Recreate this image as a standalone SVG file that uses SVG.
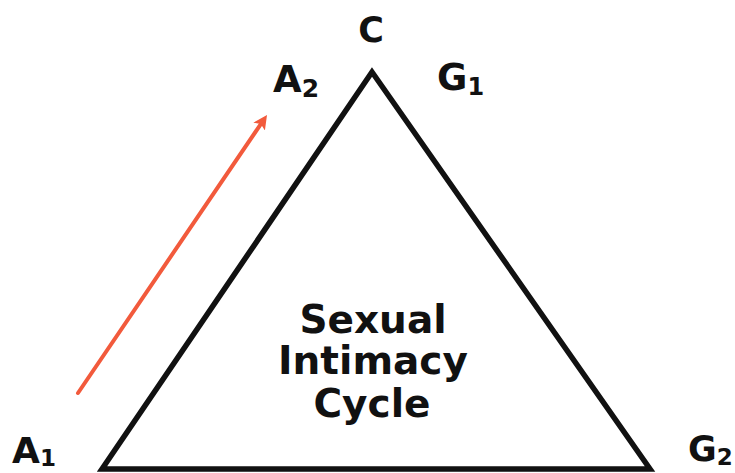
<svg xmlns="http://www.w3.org/2000/svg" width="735" height="473" viewBox="0 0 735 473">
<defs>
<style>
.lbl{font-family:"DejaVu Sans",Verdana,sans-serif;font-weight:bold;fill:#111;}
.mid{font-size:39px;}
</style>
<marker id="ah" markerWidth="16" markerHeight="16" refX="6" refY="7" orient="auto" markerUnits="userSpaceOnUse">
<path d="M0,0 L14,7 L0,14 L3,7 Z" fill="#f25a3c"/>
</marker>
</defs>
<rect width="735" height="473" fill="#fff"/>
<g id="triangle">
<polygon points="372,72 102,469 650,469" fill="none" stroke="#111" stroke-width="5.5" stroke-linejoin="miter"/>
<text class="lbl mid" text-anchor="middle" x="373" y="333">Sexual</text>
<text class="lbl mid" text-anchor="middle" x="373" y="374">Intimacy</text>
<text class="lbl mid" text-anchor="middle" x="372" y="417">Cycle</text>
</g>
<g id="C"><text class="lbl" font-size="35" text-anchor="middle" x="371" y="42">C</text></g>
<g id="A2"><text class="lbl" font-size="37" x="273" y="92">A<tspan font-size="25" dy="5">2</tspan></text></g>
<g id="G1"><text class="lbl" font-size="37" x="437" y="90">G<tspan font-size="24" dy="5">1</tspan></text></g>
<g id="A1"><text class="lbl" font-size="36" x="12" y="463">A<tspan font-size="23" dy="3">1</tspan></text></g>
<g id="G2"><text class="lbl" font-size="35" x="688" y="461">G<tspan font-size="23" dy="4">2</tspan></text></g>
<g id="connectors">
<line x1="78" y1="393" x2="262.5" y2="121.6" stroke="#f25a3c" stroke-width="4" stroke-linecap="round" marker-end="url(#ah)"/>
</g>
</svg>
